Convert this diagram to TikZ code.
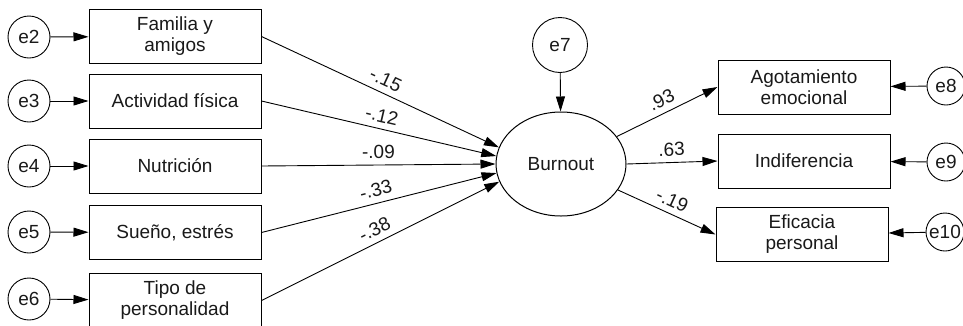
\documentclass[tikz,border=0pt]{standalone}
\usepackage{fontspec}
\setmainfont{Liberation Sans}
\usetikzlibrary{arrows.meta,shapes.geometric}
\begin{document}
\begin{tikzpicture}[x=1pt,y=-1pt,
  every node/.style={font=\fontsize{19}{21}\selectfont, text=black!90},
  obs/.style={draw, rectangle, minimum width=172pt, minimum height=54pt, align=center, inner sep=0pt, line width=1pt},
  errl/.style={draw, circle, minimum size=42pt, inner sep=0pt, line width=0.9pt},
  errs/.style={draw, circle, minimum size=38pt, inner sep=0pt, line width=0.9pt},
  conn/.style={-{Triangle[length=15pt,width=9pt]}, line width=0.9pt},
  lab/.style={midway, sloped, above=5pt, inner sep=1pt}]
\useasboundingbox (0,0) rectangle (963,325);
\clip (0,0) rectangle (963,325);
% left observed
\node[obs] (b1) at (175,36.5) {Familia y\\amigos};
\node[obs] (b2) at (175,101) {Actividad física};
\node[obs] (b3) at (175,166) {Nutrición};
\node[obs] (b4) at (175,232.5) {Sueño, estrés};
\node[obs] (b5) at (175,300.5) {Tipo de\\personalidad};
\node[errl] (e2) at (29,37) {e2};
\node[errl] (e3) at (29,101) {e3};
\node[errl] (e4) at (29,166) {e4};
\node[errl] (e5) at (29,232) {e5};
\node[errl] (e6) at (29,299) {e6};
\foreach \i/\j in {e2/b1,e3/b2,e4/b3,e5/b4,e6/b5}
  \draw[conn] (\i) -- (\j);
% latent
\node[draw, ellipse, minimum width=130pt, minimum height=104pt, inner sep=0pt, line width=1pt] (bo) at (561,164) {Burnout};
\node[draw, circle, minimum size=55pt, inner sep=0pt, line width=0.9pt] (e7) at (560,45) {e7};
\draw[conn] (e7) -- (bo);
\draw[conn] (b1.east) -- (bo.165.5) node[lab] {-.15};
\draw[conn] (b2.east) -- (bo.173) node[lab] {-.12};
\draw[conn] (b3.east) -- (bo.180) node[lab] {-.09};
\draw[conn] (b4.east) -- (bo.188) node[lab] {-.33};
\draw[conn] (b5.east) -- (bo.196.5) node[lab] {-.38};
% right observed
\node[obs] (r1) at (804,87) {Agotamiento\\emocional};
\node[obs] (r2) at (804,161) {Indiferencia};
\node[obs] (r3) at (802,234.5) {Eficacia\\personal};
\node[errs] (e8) at (946,86) {e8};
\node[errs] (e9) at (946,162) {e9};
\node[errs] (e10) at (945,232) {e10};
\draw[conn] (bo) -- (r1.west) node[lab] {.93};
\draw[conn] (bo.east) -- (r2.west) node[lab] {.63};
\draw[conn] (bo) -- (r3.west) node[lab] {-.19};
\draw[conn] (e8) -- (r1);
\draw[conn] (e9) -- (r2);
\draw[conn] (e10) -- (r3);
\end{tikzpicture}
\end{document}
